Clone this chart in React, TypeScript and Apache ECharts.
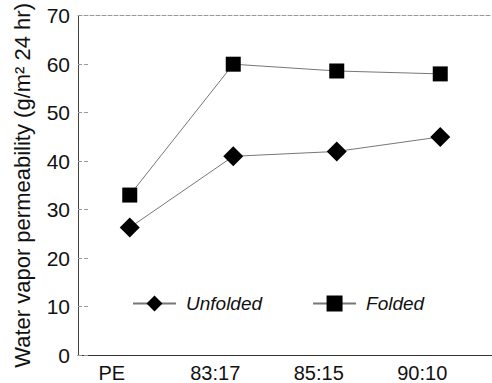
import React, { useEffect, useRef } from "react";
import * as echarts from "echarts";

const categories = ["PE", "83:17", "85:15", "90:10"];
const unfolded = [26.3, 41, 42, 45];
const folded = [33, 60, 58.6, 58];
const yTicks = { min: 0, max: 70, interval: 10 };

export default function App() {
  const ref = useRef<HTMLDivElement>(null);
  useEffect(() => {
    if (!ref.current) return;
    const chart = echarts.init(ref.current, undefined, { renderer: "svg" });
    const font = "'Liberation Sans', Arial, sans-serif";
    chart.setOption({
      animation: false,
      backgroundColor: "#fff",
      textStyle: { fontFamily: font },
      grid: { left: 78, right: 0, top: 15, bottom: 28 },
      legend: {
        left: 127,
        top: 289,
        itemWidth: 43,
        itemHeight: 20,
        itemGap: 50,
        textStyle: { fontSize: 19, fontStyle: "italic", color: "#111", fontFamily: font, padding: [0, 0, 0, 5] },
        data: ["Unfolded", "Folded"],
      },
      xAxis: [
        {
          type: "category",
          data: categories,
          position: "bottom",
          axisLine: { lineStyle: { color: "#333", width: 1 } },
          axisTick: { show: false },
          axisLabel: { fontSize: 20, color: "#111", margin: 8, padding: [0, 36, 0, 0] },
          splitLine: { show: false },
        },
        {
          type: "category",
          data: categories,
          position: "top",
          axisLine: { lineStyle: { color: "#999", width: 1, type: "dashed" } },
          axisTick: { show: false },
          axisLabel: { show: false },
        },
      ],
      yAxis: {
        type: "value",
        min: yTicks.min,
        max: yTicks.max,
        interval: yTicks.interval,
        name: "Water vapor permeability (g/m\u00b2 24 hr)",
        nameLocation: "middle",
        nameGap: 45,
        nameTextStyle: { fontSize: 22, color: "#111", fontFamily: font },
        axisLine: { show: true, lineStyle: { color: "#444", width: 1 } },
        axisTick: { show: true, inside: true, length: 10, lineStyle: { color: "#999", type: "dashed" } },
        axisLabel: { fontSize: 21, color: "#111", margin: 8 },
        splitLine: { show: false },
      },
      series: [
        {
          name: "Unfolded",
          type: "line",
          data: unfolded,
          symbol: "diamond",
          symbolSize: 20,
          itemStyle: { color: "#000" },
          lineStyle: { color: "#777", width: 1 },
        },
        {
          name: "Folded",
          type: "line",
          data: folded,
          symbol: "rect",
          symbolSize: 15,
          itemStyle: { color: "#000" },
          lineStyle: { color: "#777", width: 1 },
        },
      ],
    });
    return () => chart.dispose();
  }, []);
  return (
    <div
      ref={ref}
      style={{ position: "fixed", left: 0, top: 0, width: 492, height: 383 }}
    />
  );
}
